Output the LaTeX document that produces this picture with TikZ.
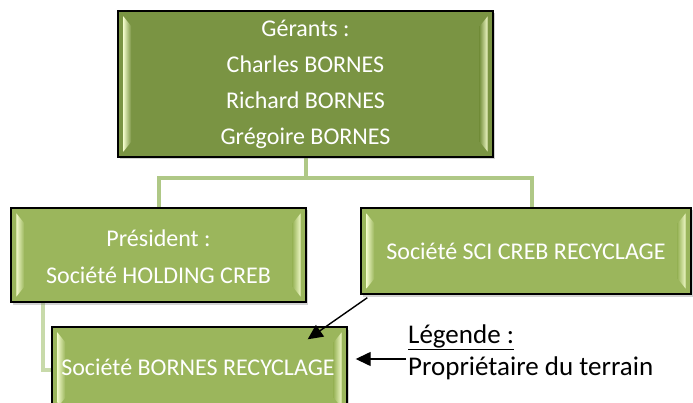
\documentclass[tikz,border=0pt]{standalone}
\usepackage{fontspec}
\setmainfont{Carlito}
\usetikzlibrary{shadows,calc,arrows.meta}
\pgfdeclarelayer{background}
\pgfsetlayers{background,main}
\definecolor{darkbox}{HTML}{7A9443}
\definecolor{lightbox}{HTML}{9BB65C}
\definecolor{bevelhi}{HTML}{F0F9C8}
\definecolor{connA}{HTML}{AFC886}
\definecolor{connB}{HTML}{C8DAAA}
\tikzset{
  orgbox/.style={draw=black, line width=1.4pt, rectangle, text=white, align=center,
    font=\fontsize{24}{36}\selectfont, inner sep=0pt,
    drop shadow={opacity=0.35, shadow xshift=2pt, shadow yshift=-2.5pt}},
  boxtext/.style={text=white, align=center, inner sep=0pt},
  conn/.style={draw=connA, line width=4pt},
  connlight/.style={draw=connB, line width=4pt},
  legendtext/.style={font=\fontsize{27}{30}\selectfont, anchor=west, inner sep=0pt},
  blackarrow/.style={draw=black, line width=1.4pt, -{Triangle[length=15pt,width=14pt]}}
}
\newcommand\boxbevel[2]{%
  \shade[left color=bevelhi, right color=#2]
    ($(#1.north west)+(6,6)$) -- ($(#1.north west)+(14,16)$) -- ($(#1.south west)+(14,-16)$) -- ($(#1.south west)+(6,-6)$) -- cycle;
  \shade[left color=#2, right color=bevelhi]
    ($(#1.north east)+(-6,6)$) -- ($(#1.north east)+(-14,16)$) -- ($(#1.south east)+(-14,-16)$) -- ($(#1.south east)+(-6,-6)$) -- cycle;
}
\begin{document}
\begin{tikzpicture}[x=1pt,y=-1pt]
\useasboundingbox (0,0) rectangle (693,403);
\clip (0,0) rectangle (693,403);
\node[orgbox, fill=darkbox, minimum width=375, minimum height=146] (top) at (305.5,84) {};
\node[orgbox, fill=lightbox, minimum width=295, minimum height=94] (left) at (158.5,255) {};
\node[orgbox, fill=lightbox, minimum width=330, minimum height=86] (right) at (526,251) {};
\node[orgbox, fill=lightbox, minimum width=295, minimum height=86] (bottom) at (199.5,370) {};
\boxbevel{top}{darkbox}
\boxbevel{left}{lightbox}
\boxbevel{right}{lightbox}
\boxbevel{bottom}{lightbox}
\begin{pgfonlayer}{background}
\coordinate (junction) at ($(top.south)+(0,20)$);
\draw[conn] (top.south) -- (junction) -| (left.north);
\draw[conn] (junction) -| ($(right.north)+(6,0)$);
\draw[connlight] ($(left.south)+(-116,0)$) |- (bottom.west);
\end{pgfonlayer}
\node[boxtext, font=\fontsize{24}{36}\selectfont] (toptext) at (top.center) {Gérants :\\Charles BORNES\\Richard BORNES\\Grégoire BORNES};
\node[boxtext, font=\fontsize{24}{37}\selectfont] (lefttext) at (158.5,257) {Président :\\Société HOLDING CREB};
\node[boxtext, font=\fontsize{24}{36}\selectfont] (righttext) at (right.center) {Société SCI CREB RECYCLAGE};
\node[boxtext, font=\fontsize{24}{36}\selectfont] (bottomtext) at (198,367) {Société BORNES RECYCLAGE};
\node[legendtext] (leg) at (408,337) {\underline{Légende :}};
\node[legendtext] (prop) at (408,368) {Propriétaire du terrain};
\coordinate (arrowstart) at ($(prop.west)+(-2,-9)$);
\draw[blackarrow] (arrowstart) -- ($(bottom.east)+(8,-11)$);
\draw[blackarrow] ($(right.south west)+(7,3)$) -- ($(bottom.north east)+(-40,13)$);
\end{tikzpicture}
\end{document}
